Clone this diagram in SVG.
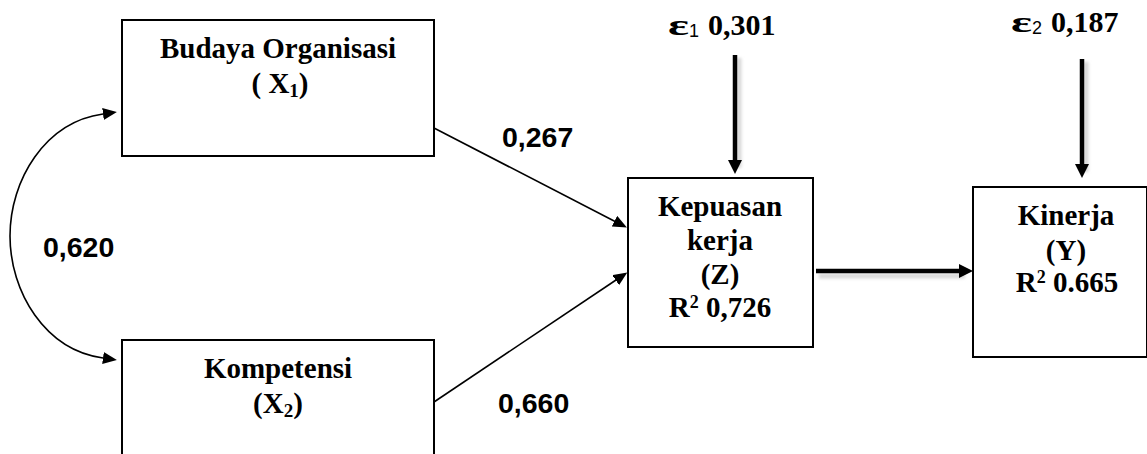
<svg xmlns="http://www.w3.org/2000/svg" width="1147" height="454" viewBox="0 0 1147 454">
<style>
.box{fill:#fff;stroke:#000;stroke-width:2}
.t{font-family:"Liberation Serif","Times New Roman",serif;font-weight:bold;font-size:29px;fill:#000;text-anchor:middle}
.n{font-family:"Liberation Sans",Arial,sans-serif;font-weight:bold;font-size:28.5px;fill:#000}
.e{font-family:"Liberation Serif","Times New Roman",serif;font-weight:bold;font-size:30px;fill:#000}
.s{font-family:"Liberation Sans",Arial,sans-serif;font-size:18px;fill:#000}
.thin{fill:none;stroke:#000;stroke-width:1.6}
.thick{fill:none;stroke:#000;stroke-width:4.5}
.sh{fill:none;stroke:#d8d8d8;stroke-width:5}
</style>
<defs>
<marker id="ah" markerUnits="userSpaceOnUse" markerWidth="14" markerHeight="12" refX="4" refY="6" orient="auto"><path d="M0,0 L14,6 L0,12 z" fill="#000"/></marker>
<marker id="ahs" markerUnits="userSpaceOnUse" markerWidth="14" markerHeight="12" refX="0" refY="6" orient="auto-start-reverse"><path d="M0,0 L14,6 L0,12 z" fill="#000"/></marker>
<marker id="ahb" markerUnits="userSpaceOnUse" markerWidth="14" markerHeight="14" refX="3" refY="7" orient="auto"><path d="M0,0 L14,7 L0,14 z" fill="#000"/></marker>
<filter id="blur" x="-20%" y="-20%" width="140%" height="140%"><feGaussianBlur stdDeviation="1.5"/></filter>
</defs>

<g id="connectors">
<g filter="url(#blur)">
<line class="sh" x1="819" y1="276" x2="965" y2="276"/>
<line class="sh" x1="739" y1="58" x2="739" y2="168"/>
<line class="sh" x1="1086" y1="62" x2="1086" y2="172"/>
</g>
<path class="thin" d="M103,114 C45,122 10,180 10,236 C10,292 45,350 103,358" marker-start="url(#ahs)" marker-end="url(#ahs)"/>
<line class="thin" x1="434" y1="128" x2="618" y2="223" marker-end="url(#ah)"/>
<line class="thin" x1="434" y1="402" x2="619" y2="278" marker-end="url(#ah)"/>
<line class="thick" x1="816" y1="271" x2="962" y2="271" marker-end="url(#ahb)"/>
<line class="thick" x1="735" y1="55" x2="735" y2="163" marker-end="url(#ahb)"/>
<line class="thick" x1="1082" y1="59" x2="1082" y2="167" marker-end="url(#ahb)"/>
</g>

<g id="node-x1">
<rect class="box" x="122" y="20" width="312" height="136"/>
<text class="t" x="278" y="58">Budaya Organisasi</text>
<text class="t" x="280" y="93">( X<tspan font-size="19" dy="4">1</tspan><tspan dy="-4">)</tspan></text>
</g>

<g id="node-x2">
<rect class="box" x="122" y="340" width="312" height="140"/>
<text class="t" x="278" y="378">Kompetensi</text>
<text class="t" x="278" y="413">(X<tspan font-size="19" dy="4">2</tspan><tspan dy="-4">)</tspan></text>
</g>

<g id="node-z">
<rect class="box" x="628" y="178" width="185" height="169"/>
<text class="t" x="720" y="216">Kepuasan</text>
<text class="t" x="720" y="250">kerja</text>
<text class="t" x="720" y="284">(Z)</text>
<text class="t" x="720" y="317">R<tspan font-size="18" dy="-9">2</tspan><tspan dy="9"> 0,726</tspan></text>
</g>

<g id="node-y">
<rect class="box" x="973" y="187" width="174" height="170"/>
<text class="t" x="1066" y="225">Kinerja</text>
<text class="t" x="1066" y="260">(Y)</text>
<text class="t" x="1067" y="292">R<tspan font-size="18" dy="-9">2</tspan><tspan dy="9"> 0.665</tspan></text>
</g>

<g id="labels">
<text class="n" x="43" y="257">0,620</text>
<text class="n" x="502" y="147">0,267</text>
<text class="n" x="498" y="413">0,660</text>
<text class="e" x="668" y="35" textLength="21" lengthAdjust="spacingAndGlyphs">ε</text>
<text class="s" x="689" y="37">1</text>
<text class="e" x="708" y="35">0,301</text>
<text class="e" x="1011" y="32" textLength="21" lengthAdjust="spacingAndGlyphs">ε</text>
<text class="s" x="1032" y="34">2</text>
<text class="e" x="1051" y="32">0,187</text>
</g>
</svg>
